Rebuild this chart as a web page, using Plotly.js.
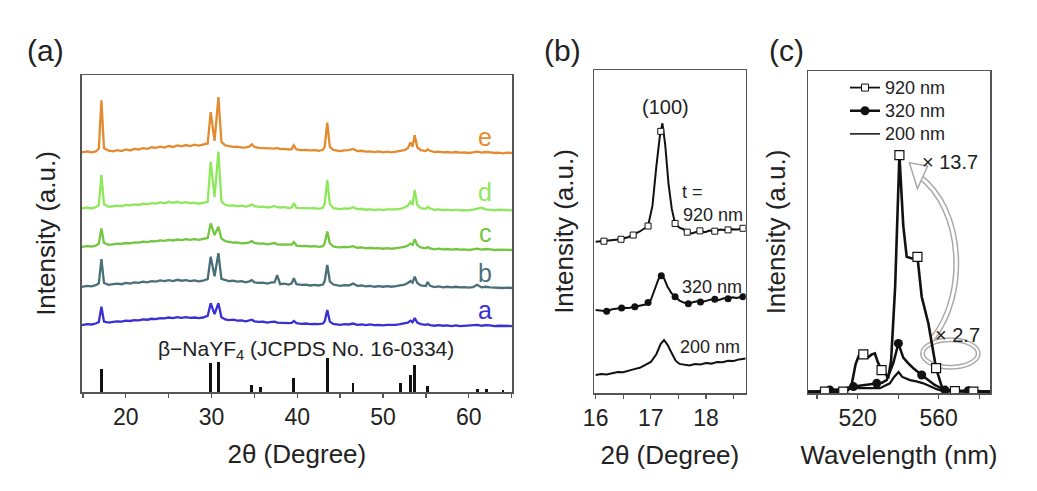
<!DOCTYPE html>
<html>
<head>
<meta charset="utf-8">
<script src="https://cdn.plot.ly/plotly-3.0.1.min.js"></script>
<style>html,body{margin:0;padding:0;background:#fff;}#chart{width:1037px;height:491px;}</style>
</head>
<body>
<div id="chart"></div>
<script>
// ---------- Panel (a): XRD patterns ----------
var xrdTheta = [14.85, 15.5, 16, 16.5, 16.85, 17.15, 17.45, 18, 18.5, 19,
  19.5, 20, 20.5, 21, 21.5, 22, 22.5, 23, 23.5, 24,
  24.5, 25, 25.5, 26, 26.5, 27, 27.5, 28, 28.5, 29,
  29.55, 29.9, 30.35, 30.8, 31.15, 31.6, 32, 32.5, 33, 33.5,
  34, 34.4, 34.7, 35, 35.5, 36, 36.5, 37, 37.35, 37.65,
  38, 38.5, 39, 39.35, 39.6, 39.9, 40.5, 41, 41.5, 42,
  42.5, 43, 43.2, 43.5, 43.8, 44.2, 44.6, 45, 45.5, 46,
  46.5, 47, 47.5, 48, 48.5, 49, 49.5, 50, 50.5, 51,
  51.5, 52, 52.5, 52.9, 53.2, 53.45, 53.7, 54, 54.4, 55,
  55.2, 55.5, 56, 56.5, 57, 57.5, 58, 58.5, 59, 59.5,
  60, 60.5, 61, 61.5, 62, 62.5, 63, 63.5, 64, 64.5,
  65.05];
var xrdE = [75.6, 75.9, 75.6, 75.9, 76.8, 92.0, 76.9, 76.1, 75.9, 76.3,
  76.0, 76.5, 76.2, 76.7, 76.5, 76.9, 76.7, 77.2, 77.0, 77.4,
  77.1, 77.6, 77.3, 77.8, 77.5, 77.9, 77.6, 78.0, 77.7, 78.1,
  78.4, 88.3, 79.2, 93.0, 78.9, 77.8, 77.6, 77.3, 77.4, 77.1,
  77.2, 77.4, 78.1, 77.3, 77.0, 76.9, 77.0, 76.7, 76.8, 77.0,
  76.6, 76.7, 76.5, 76.6, 77.8, 76.5, 76.3, 76.4, 76.2, 76.3,
  76.1, 76.4, 77.4, 85.0, 77.3, 76.4, 76.2, 76.0, 76.2, 76.3,
  76.7, 76.0, 76.1, 75.8, 75.9, 75.7, 75.9, 75.6, 75.8, 75.6,
  75.8, 76.0, 76.3, 76.9, 78.7, 77.4, 81.0, 77.2, 76.3, 76.0,
  76.5, 76.1, 75.7, 75.8, 75.6, 75.7, 75.5, 75.7, 75.5, 75.6,
  75.4, 75.6, 75.8, 75.5, 75.7, 75.6, 75.4, 75.5, 75.3, 75.5,
  75.4];
var xrdD = [57.9, 58.2, 57.9, 58.3, 59.0, 68.5, 59.2, 58.4, 58.6, 58.8,
  58.6, 59.0, 58.9, 59.2, 59.0, 59.4, 59.2, 59.6, 59.4, 59.8,
  59.5, 60.0, 59.7, 60.0, 59.6, 59.9, 59.5, 59.7, 59.4, 59.6,
  60.0, 72.6, 61.5, 75.8, 60.2, 59.0, 58.8, 58.9, 58.6, 58.8,
  58.5, 58.7, 59.2, 58.6, 58.4, 58.5, 58.2, 58.4, 58.7, 58.3,
  58.2, 58.3, 58.0, 58.2, 59.6, 58.1, 58.0, 58.1, 57.9, 58.0,
  57.8, 58.1, 59.5, 66.9, 59.3, 58.0, 57.8, 57.7, 57.9, 57.8,
  58.3, 57.7, 57.8, 57.5, 57.7, 57.4, 57.6, 57.4, 57.6, 57.5,
  57.6, 57.8, 58.2, 58.8, 60.0, 59.0, 63.7, 59.0, 58.0, 57.8,
  58.4, 57.9, 57.5, 57.6, 57.4, 57.5, 57.3, 57.5, 57.3, 57.4,
  57.3, 57.5, 57.7, 58.1, 57.6, 57.5, 57.3, 57.5, 57.4, 57.5,
  57.3];
var xrdC = [45.8, 46.0, 45.9, 46.2, 46.8, 51.6, 47.0, 46.4, 46.6, 46.8,
  46.7, 47.0, 46.9, 47.2, 47.1, 47.4, 47.3, 47.6, 47.5, 47.8,
  47.7, 48.0, 47.8, 48.1, 47.9, 48.2, 48.0, 48.2, 48.0, 48.2,
  48.6, 53.2, 49.5, 52.1, 48.4, 47.6, 47.3, 47.1, 47.2, 46.9,
  47.0, 47.2, 47.6, 47.0, 46.8, 46.9, 46.6, 46.8, 47.0, 46.6,
  46.5, 46.6, 46.4, 46.5, 47.3, 46.2, 46.0, 46.1, 45.9, 46.0,
  45.8, 46.0, 47.0, 50.6, 46.9, 45.9, 45.7, 45.6, 45.8, 45.7,
  46.0, 45.5, 45.6, 45.3, 45.5, 45.3, 45.4, 45.2, 45.4, 45.2,
  45.4, 45.5, 45.8, 46.2, 46.8, 46.4, 48.2, 46.3, 45.6, 45.3,
  45.7, 45.3, 45.0, 45.2, 45.0, 45.1, 44.9, 45.1, 44.9, 45.0,
  44.8, 45.0, 45.2, 44.9, 45.1, 45.0, 44.8, 44.9, 44.8, 44.9,
  44.8];
var xrdB = [33.2, 33.5, 33.3, 33.7, 34.3, 41.9, 34.4, 33.8, 34.0, 34.2,
  34.0, 34.4, 34.2, 34.6, 34.4, 34.8, 34.6, 35.0, 34.8, 35.2,
  35.0, 35.3, 35.0, 35.4, 35.1, 35.3, 35.0, 35.2, 34.9, 35.1,
  35.6, 42.7, 36.5, 43.8, 35.7, 35.2, 35.0, 35.1, 34.8, 35.0,
  34.6, 34.9, 35.3, 34.6, 34.4, 34.5, 34.2, 34.6, 34.6, 36.9,
  34.0, 34.2, 33.9, 34.3, 35.9, 34.0, 33.8, 33.9, 33.6, 33.8,
  33.6, 33.9, 35.0, 40.1, 34.9, 33.9, 33.6, 33.5, 33.7, 33.6,
  34.2, 33.5, 33.6, 33.3, 33.5, 33.2, 33.4, 33.2, 33.4, 33.2,
  33.4, 33.6, 33.9, 34.4, 35.0, 34.5, 36.4, 34.4, 33.6, 33.4,
  34.7, 33.5, 33.1, 33.3, 33.0, 33.2, 33.0, 33.2, 33.0, 33.1,
  32.9, 33.1, 33.8, 33.0, 33.2, 33.0, 32.9, 33.0, 32.8, 32.9,
  32.8];
var xrdA = [21.1, 21.4, 21.3, 21.6, 22.1, 26.9, 22.2, 21.9, 22.1, 22.3,
  22.2, 22.5, 22.4, 22.7, 22.6, 22.9, 22.8, 23.1, 23.0, 23.3,
  23.2, 23.5, 23.3, 23.6, 23.4, 23.6, 23.4, 23.5, 23.3, 23.5,
  24.0, 28.0, 24.6, 28.0, 23.6, 22.9, 22.7, 22.8, 22.5, 22.6,
  22.3, 22.5, 22.8, 22.3, 22.1, 22.2, 21.9, 22.1, 22.2, 21.9,
  21.8, 21.9, 21.7, 21.8, 22.4, 21.7, 21.5, 21.6, 21.4, 21.5,
  21.4, 21.6, 22.3, 25.9, 22.2, 21.5, 21.3, 21.2, 21.4, 21.3,
  21.6, 21.2, 21.3, 21.1, 21.3, 21.1, 21.2, 21.0, 21.2, 21.1,
  21.2, 21.4, 21.6, 21.9, 22.5, 22.0, 23.3, 21.9, 21.4, 21.2,
  21.4, 21.1, 20.9, 21.1, 20.9, 21.0, 20.8, 21.0, 20.8, 20.9,
  20.8, 21.0, 21.2, 20.9, 21.1, 21.0, 20.8, 20.9, 20.8, 20.9,
  20.8];
var sampleNames = ['a', 'b', 'c', 'd', 'e'];
var sampleColors = ['#3a2fd2', '#4b6f78', '#72c640', '#8ee85c', '#e48b30'];
// JCPDS No. 16-0334 reference lines
var refTheta = [17.16, 29.9, 30.8, 34.7, 35.7, 39.6, 43.5, 46.5, 52.0, 53.2, 53.7, 55.2, 61.0, 62.1, 64.0];
var refInt = [7.3, 9.1, 9.5, 2.2, 1.6, 4.4, 10.7, 2.8, 2.8, 5.4, 8.5, 1.9, 1.0, 1.0, 0.7];

// ---------- Panel (b): (100) peak ----------
var b920x = [16.0, 16.15, 16.3, 16.46, 16.6, 16.68, 16.8, 16.95, 17.03, 17.1, 17.16, 17.21, 17.26, 17.32, 17.38, 17.44, 17.52, 17.59, 17.66, 17.74, 17.82, 17.89, 17.98, 18.07, 18.16, 18.26, 18.37, 18.47, 18.57, 18.67, 18.72];
var b920y = [46.8, 47.0, 47.2, 47.6, 48.3, 48.9, 50.0, 51.7, 58.0, 70.1, 79.0, 83.5, 77.0, 64.9, 57.0, 52.5, 51.2, 50.7, 49.8, 49.4, 49.9, 50.2, 49.8, 50.3, 50.1, 50.6, 50.4, 50.7, 50.6, 51.0, 51.0];
var b920mx = [16.15, 16.46, 16.68, 16.95, 17.18, 17.44, 17.66, 17.89, 18.16, 18.4, 18.67];
var b920my = [47.0, 47.6, 48.9, 51.7, 81.0, 52.5, 49.8, 50.2, 50.1, 50.5, 51.0];
var b320x = [16.0, 16.1, 16.2, 16.3, 16.4, 16.5, 16.6, 16.7, 16.8, 16.9, 17.0, 17.08, 17.14, 17.19, 17.24, 17.3, 17.37, 17.44, 17.52, 17.6, 17.68, 17.76, 17.84, 17.92, 18.0, 18.08, 18.16, 18.24, 18.32, 18.4, 18.48, 18.56, 18.64, 18.72];
var b320y = [25.7, 25.5, 25.3, 25.9, 26.2, 26.4, 26.3, 26.7, 26.9, 27.4, 28.8, 32.5, 35.3, 36.3, 35.5, 33.0, 31.0, 29.8, 28.6, 28.0, 27.6, 28.1, 28.4, 28.1, 28.5, 28.9, 29.0, 28.8, 29.3, 29.2, 29.6, 29.4, 29.8, 29.9];
var b320mx = [16.2, 16.47, 16.71, 16.95, 17.19, 17.44, 17.68, 17.9, 18.16, 18.4, 18.67];
var b320my = [25.3, 26.3, 26.7, 28.0, 36.3, 29.8, 27.6, 28.2, 29.0, 29.2, 29.8];
var b200x = [16.0, 16.1, 16.2, 16.3, 16.4, 16.5, 16.6, 16.7, 16.8, 16.9, 17.0, 17.1, 17.18, 17.24, 17.3, 17.38, 17.45, 17.52, 17.6, 17.7, 17.8, 17.9, 18.0, 18.1, 18.2, 18.3, 18.4, 18.5, 18.6, 18.72];
var b200y = [5.6, 5.9, 5.7, 6.2, 6.5, 6.4, 7.0, 7.4, 7.8, 8.6, 9.6, 12.0, 15.2, 16.4, 15.0, 12.3, 10.0, 9.0, 8.7, 8.5, 9.0, 8.8, 9.3, 9.1, 9.6, 9.5, 10.0, 9.9, 10.4, 10.7];

// ---------- Panel (c): emission spectra ----------
var c920x = [495.5, 500, 504, 509, 513, 515.5, 517, 519, 521, 523, 525, 527, 528.5, 530, 531.8, 533.5, 535, 536.5, 538.5, 540.6, 542.5, 544.2, 546.7, 549.5, 551.6, 554.9, 556.5, 558.7, 561.5, 564, 568, 572, 577, 585.3];
var c920y = [0.4, 0.4, 0.4, 0.5, 0.4, 1.0, 2.5, 9.0, 12.3, 12.3, 11.0, 12.0, 12.3, 9.5, 7.1, 6.5, 4.5, 10.0, 33.0, 73.9, 52.0, 42.3, 41.8, 42.3, 29.9, 21.6, 15.4, 7.7, 2.0, 0.9, 0.6, 0.5, 0.4, 0.4];
var c920mx = [503.9, 512.9, 522.8, 531.8, 540.6, 549.5, 558.7, 568, 577.1];
var c920my = [0.4, 0.4, 12.0, 7.1, 73.9, 42.3, 7.7, 0.6, 0.4];
var c320x = [495.5, 500, 506.3, 512, 517.9, 523, 526, 529.4, 532, 534.3, 537.6, 540.1, 542.5, 545, 547.5, 551.6, 554.9, 558, 563.1, 568, 574.6, 580, 585.3];
var c320y = [0.4, 0.4, 0.9, 1.2, 2.0, 2.5, 2.6, 3.0, 3.2, 4.0, 9.3, 15.4, 11.0, 9.2, 7.7, 5.6, 4.0, 2.5, 0.9, 0.7, 0.7, 0.5, 0.5];
var c320mx = [506.3, 517.9, 529.4, 540.1, 551.6, 563.1, 574.6];
var c320my = [0.9, 2.0, 3.0, 15.4, 5.6, 0.9, 0.7];
var c200x = [495.5, 505, 512, 516.2, 522, 527, 531, 535.9, 538, 540.2, 542, 543.4, 545.8, 549, 552.4, 556, 559, 562.3, 568, 575, 585.3];
var c200y = [0.4, 0.5, 0.8, 1.5, 1.6, 1.5, 1.5, 3.0, 5.0, 6.5, 5.0, 4.6, 4.0, 3.6, 3.0, 2.0, 1.2, 0.6, 0.4, 0.4, 0.4];
var thicknessNames = ['920 nm', '320 nm', '200 nm'];

// ---------- Build traces ----------
var W = 1037, H = 491;
var traces = [];
var xrdSeries = [xrdA, xrdB, xrdC, xrdD, xrdE];
for (var i = 0; i < xrdSeries.length; i++) {
  traces.push({type: 'scatter', mode: 'lines', x: xrdTheta, y: xrdSeries[i], xaxis: 'x', yaxis: 'y',
    line: {color: sampleColors[i], width: 2.3}, showlegend: false, hoverinfo: 'skip'});
}
traces.push({type: 'bar', x: refTheta, y: refInt, xaxis: 'x', yaxis: 'y', width: 0.34,
  marker: {color: '#111', line: {width: 0}}, showlegend: false, hoverinfo: 'skip'});

// panel b
traces.push({type: 'scatter', mode: 'lines', x: b200x, y: b200y, xaxis: 'x2', yaxis: 'y2', line: {color: '#111', width: 2}, showlegend: false});
traces.push({type: 'scatter', mode: 'lines', x: b320x, y: b320y, xaxis: 'x2', yaxis: 'y2', line: {color: '#111', width: 2}, showlegend: false});
traces.push({type: 'scatter', mode: 'markers', x: b320mx, y: b320my, xaxis: 'x2', yaxis: 'y2', marker: {symbol: 'circle', size: 7, color: '#111'}, showlegend: false});
traces.push({type: 'scatter', mode: 'lines', x: b920x, y: b920y, xaxis: 'x2', yaxis: 'y2', line: {color: '#111', width: 2}, showlegend: false});
traces.push({type: 'scatter', mode: 'markers', x: b920mx, y: b920my, xaxis: 'x2', yaxis: 'y2', marker: {symbol: 'square', size: 6, color: '#fff', line: {color: '#111', width: 1}}, showlegend: false});

// panel c
traces.push({type: 'scatter', mode: 'lines', x: c200x, y: c200y, xaxis: 'x3', yaxis: 'y3', line: {color: '#111', width: 2.2}, showlegend: false});
traces.push({type: 'scatter', mode: 'lines', x: c320x, y: c320y, xaxis: 'x3', yaxis: 'y3', line: {color: '#111', width: 2.5}, showlegend: false});
traces.push({type: 'scatter', mode: 'markers', x: c320mx, y: c320my, xaxis: 'x3', yaxis: 'y3', marker: {symbol: 'circle', size: 9, color: '#111'}, showlegend: false});
traces.push({type: 'scatter', mode: 'lines', x: c920x, y: c920y, xaxis: 'x3', yaxis: 'y3', line: {color: '#111', width: 2.6}, showlegend: false});
traces.push({type: 'scatter', mode: 'markers', x: c920mx, y: c920my, xaxis: 'x3', yaxis: 'y3', marker: {symbol: 'square', size: 9, color: '#fff', line: {color: '#111', width: 1.2}}, showlegend: false});

// legend-only entries for panel c
function legName(s) { return '<span style="font-size:18px">' + s + '</span>'; }
traces.push({type: 'scatter', mode: 'lines+markers', x: [null], y: [null], xaxis: 'x3', yaxis: 'y3', name: legName(thicknessNames[0]),
  line: {color: '#111', width: 1.8}, marker: {symbol: 'square', size: 7, color: '#fff', line: {color: '#111', width: 1}}});
traces.push({type: 'scatter', mode: 'lines+markers', x: [null], y: [null], xaxis: 'x3', yaxis: 'y3', name: legName(thicknessNames[1]),
  line: {color: '#111', width: 2.5}, marker: {symbol: 'circle', size: 9, color: '#111'}});
traces.push({type: 'scatter', mode: 'lines', x: [null], y: [null], xaxis: 'x3', yaxis: 'y3', name: legName(thicknessNames[2]),
  line: {color: '#111', width: 1.5}});

// ---------- Layout ----------
var axisLine = {showline: true, mirror: true, linecolor: '#555', linewidth: 1.5, showgrid: false, zeroline: false};
function xax(extra) { return Object.assign({}, axisLine, {ticks: 'outside', ticklen: 4, tickwidth: 1.3, tickcolor: '#555',
  tickfont: {size: 23, color: '#222'}}, extra); }
function yax(extra) { return Object.assign({}, axisLine, {ticks: '', showticklabels: false, range: [0, 100]}, extra); }

var titleFont = {size: 26, color: '#222'};
var layout = {
  width: W, height: H,
  margin: {l: 0, r: 0, t: 0, b: 0},
  paper_bgcolor: '#fff', plot_bgcolor: '#fff',
  font: {family: '"Liberation Sans", Arial, sans-serif', color: '#222'},
  bargap: 0,
  showlegend: true,
  legend: {x: 845 / W, y: 1 - 71 / H, xanchor: 'left', yanchor: 'top', bgcolor: 'rgba(0,0,0,0)',
    font: {size: 15.5, color: '#222'}, tracegroupgap: 0},
  xaxis: xax({domain: [81.7 / W, 512 / W], range: [14.85, 65.05], anchor: 'y', tick0: 0, dtick: 10,
    minor: {dtick: 5, ticks: 'outside', ticklen: 4, tickcolor: '#555'},
    title: {text: '2θ (Degree)', font: titleFont, standoff: 15}}),
  yaxis: yax({domain: [1 - 392 / H, 1 - 75 / H], anchor: 'x',
    title: {text: 'Intensity (a.u.)', font: titleFont, standoff: 17}}),
  xaxis2: xax({domain: [594 / W, 745.7 / W], range: [15.97, 18.72], anchor: 'y2', tick0: 0, dtick: 1,
    minor: {dtick: 0.5, ticks: 'outside', ticklen: 4, tickcolor: '#555'},
    title: {text: '2θ (Degree)', font: titleFont, standoff: 15}}),
  yaxis2: yax({domain: [1 - 393 / H, 1 - 70 / H], anchor: 'x2',
    title: {text: 'Intensity (a.u.)', font: titleFont, standoff: 11}}),
  xaxis3: xax({domain: [808 / W, 990 / W], range: [495.5, 585.3], anchor: 'y3', tick0: 520, dtick: 40,
    minor: {dtick: 20, ticks: 'outside', ticklen: 4, tickcolor: '#555'},
    title: {text: 'Wavelength (nm)', font: titleFont, standoff: 15}}),
  yaxis3: yax({domain: [1 - 393 / H, 1 - 71 / H], anchor: 'x3',
    title: {text: 'Intensity (a.u.)', font: titleFont, standoff: 13}}),
  annotations: [],
  shapes: []
};

// panel labels
[['(a)', 45], ['(b)', 562], ['(c)', 786]].forEach(function (p) {
  layout.annotations.push({text: p[0], xref: 'paper', yref: 'paper', x: p[1] / W, y: 1 - 50 / H,
    xanchor: 'center', yanchor: 'middle', showarrow: false, font: {size: 30, color: '#222'}});
});
// sample letters in (a)
var letterY = [25.9, 37.5, 50.2, 63.1, 80.4];
for (var k = 0; k < sampleNames.length; k++) {
  layout.annotations.push({text: sampleNames[k], xref: 'x', yref: 'y', x: 61.9, y: letterY[k],
    showarrow: false, font: {size: 25, color: sampleColors[k]}});
}
layout.annotations.push({text: 'β−NaYF<sub>4</sub> (JCPDS No. 16-0334)', xref: 'x', yref: 'y', x: 41.0, y: 13.2,
  showarrow: false, font: {size: 21, color: '#222'}});
// panel (b) texts
layout.annotations.push({text: '(100)', xref: 'x2', yref: 'y2', x: 17.26, y: 88.5, showarrow: false, font: {size: 20, color: '#222'}});
layout.annotations.push({text: 't =', xref: 'x2', yref: 'y2', x: 17.76, y: 62.2, showarrow: false, font: {size: 18, color: '#222'}});
layout.annotations.push({text: '920 nm', xref: 'x2', yref: 'y2', x: 18.12, y: 55.1, showarrow: false, font: {size: 18, color: '#222'}});
layout.annotations.push({text: '320 nm', xref: 'x2', yref: 'y2', x: 18.1, y: 32.9, showarrow: false, font: {size: 18, color: '#222'}});
layout.annotations.push({text: '200 nm', xref: 'x2', yref: 'y2', x: 18.07, y: 14.2, showarrow: false, font: {size: 18, color: '#222'}});
// panel (c) texts
layout.annotations.push({text: '× 13.7', xref: 'x3', yref: 'y3', x: 565.6, y: 71.7, showarrow: false, font: {size: 20, color: '#222'}});
layout.annotations.push({text: '× 2.7', xref: 'x3', yref: 'y3', x: 569.5, y: 18.0, showarrow: false, font: {size: 20, color: '#222'}});

// curved hollow arrows in (c)
var arc = 'M 557,17 C 574,30 573,57 550,67.5';
layout.shapes.push({type: 'path', xref: 'x3', yref: 'y3', path: arc, line: {color: '#aaa', width: 6}, layer: 'below'});
layout.shapes.push({type: 'path', xref: 'x3', yref: 'y3', path: arc, line: {color: '#fff', width: 3}, layer: 'below'});
layout.shapes.push({type: 'path', xref: 'x3', yref: 'y3', path: 'M 545.5,71.5 L 554.5,70.5 L 549.5,63.5 Z',
  fillcolor: '#fff', line: {color: '#aaa', width: 1.5}, layer: 'below'});
layout.shapes.push({type: 'circle', xref: 'x3', yref: 'y3', x0: 552, x1: 579.5, y0: 8, y1: 16.5, line: {color: '#aaa', width: 5}, layer: 'below'});
layout.shapes.push({type: 'circle', xref: 'x3', yref: 'y3', x0: 552, x1: 579.5, y0: 8, y1: 16.5, line: {color: '#fff', width: 2}, layer: 'below'});

Plotly.newPlot('chart', traces, layout, {displayModeBar: false, staticPlot: true});
</script>
</body>
</html>
